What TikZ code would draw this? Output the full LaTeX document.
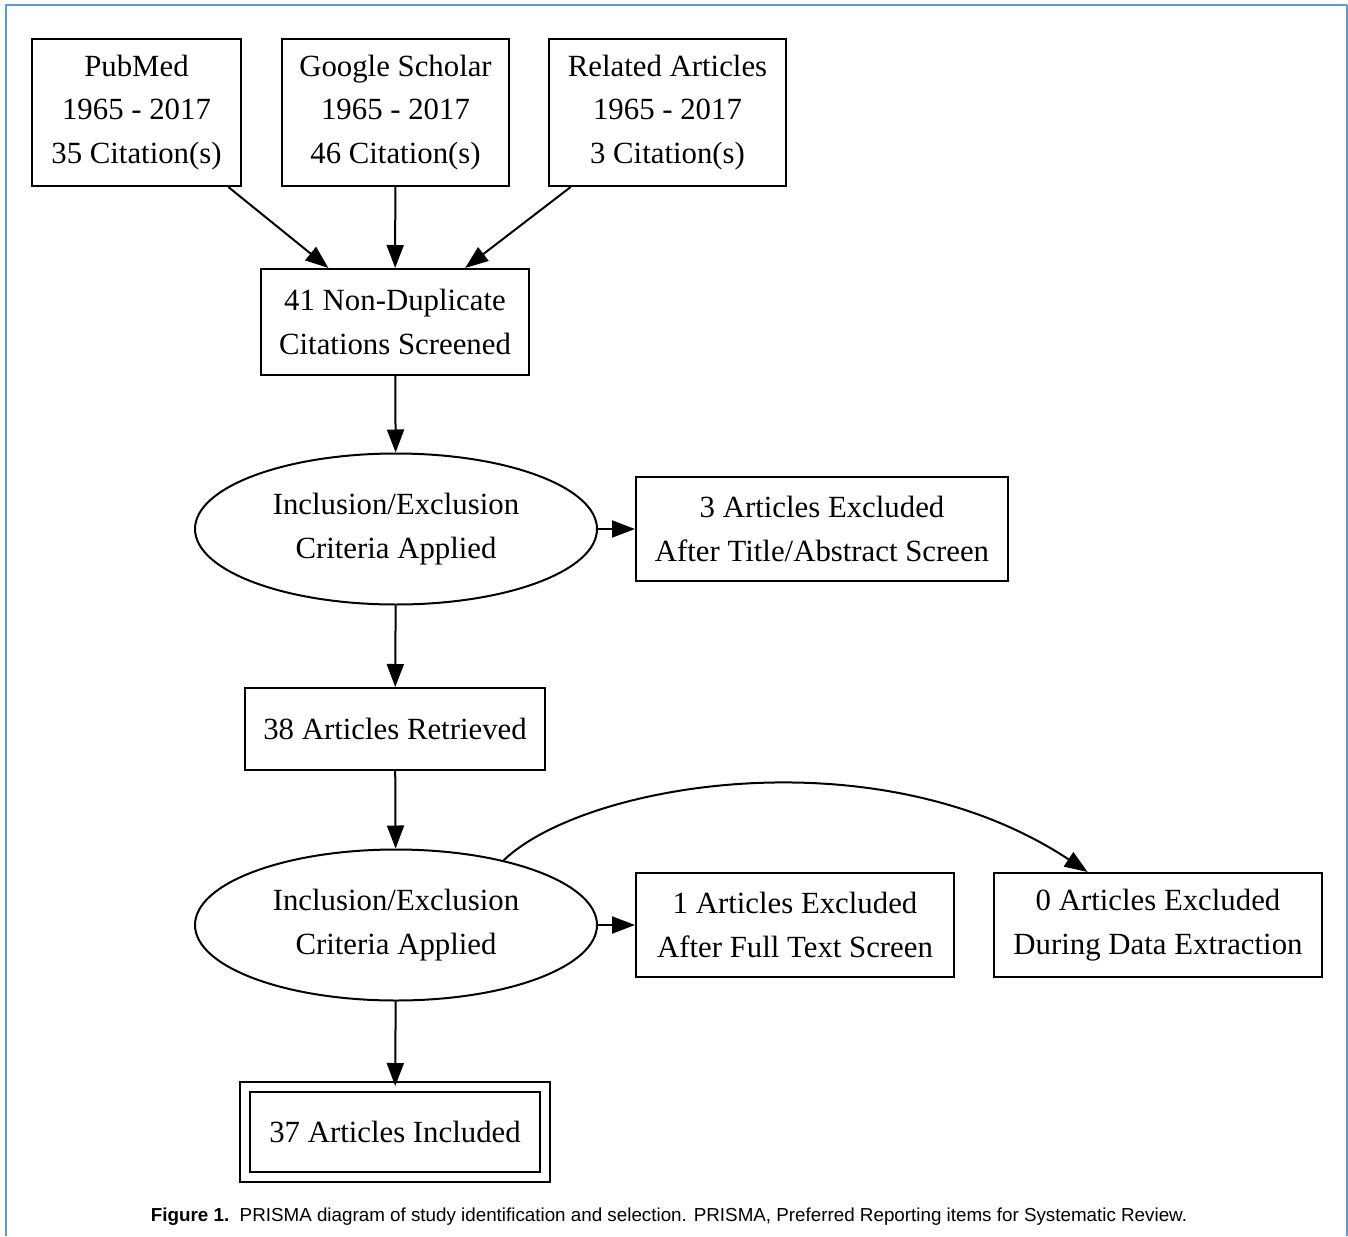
\documentclass[tikz,border=0pt]{standalone}
\usepackage{fontspec}
\setmainfont{Liberation Serif}
\newfontfamily\capfont{Liberation Sans}
\usetikzlibrary{arrows.meta,shapes.geometric}
\definecolor{frameblue}{RGB}{91,155,213}

\begin{document}
\begin{tikzpicture}[x=0.5pt,y=-0.5pt,
box/.style={draw,rectangle,line width=1pt,inner sep=0pt,align=center,minimum height=52pt,
    font=\fontsize{15.4}{21.75}\selectfont},
crit/.style={draw,ellipse,line width=1pt,inner sep=0pt,align=center,minimum width=201pt,
    minimum height=75.5pt,font=\fontsize{15.4}{21.75}\selectfont},
arr/.style={line width=1pt,-{Triangle[length=11.5pt,width=8.5pt]}}]
\useasboundingbox (0,0) rectangle (1348,1236);
\draw[frameblue,line width=1.4pt] (6,1236) -- (6,5) -- (1347,5);
\draw[frameblue,line width=0.7pt] (1347,5) -- (1347,1236);

% sources
\node (pubmed) [box,minimum width=104.5pt,minimum height=73.5pt] at (136.5,112.5)
    {PubMed\\1965 - 2017\\35 Citation(s)};
\node (scholar) [box,minimum width=113.5pt,minimum height=73.5pt] at (395.5,112.5)
    {Google Scholar\\1965 - 2017\\46 Citation(s)};
\node (related) [box,minimum width=118.5pt,minimum height=73.5pt] at (667.5,112.5)
    {Related Articles\\1965 - 2017\\3 Citation(s)};

\node (nondup) [box,minimum width=134pt,minimum height=53pt] at (395,322)
    {41 Non-Duplicate\\Citations Screened};

% screening
\node (crit1) [crit] at (396,529) {Inclusion/Exclusion\\Criteria Applied};
\node (excl1) [box,minimum width=186pt] at (822,529)
    {3 Articles Excluded\\After Title/Abstract Screen};

\node (retr) [box,minimum width=150pt,minimum height=41pt] at (395,729)
    {38 Articles Retrieved};

\node (crit2) [crit] at (396,925) {Inclusion/Exclusion\\Criteria Applied};
\node (excl2) [box,minimum width=159pt] at (795,925)
    {1 Articles Excluded\\After Full Text Screen};
\node (excl3) [box,minimum width=164pt] at (1158,925)
    {0 Articles Excluded\\During Data Extraction};

\node (incl) [box,double,double distance=4pt,minimum width=150pt,minimum height=45pt] at (395,1132)
    {37 Articles Included};

\draw[arr] (pubmed) -- (nondup);
\draw[arr] (scholar) -- (nondup);
\draw[arr] (related) -- (nondup);
\draw[arr] (nondup) -- (crit1);
\draw[arr] (crit1) -- (excl1);
\draw[arr] (crit1) -- (retr);
\draw[arr] (retr) -- (crit2);
\draw[arr] (crit2) -- (excl2);
\draw[arr] (crit2.31) .. controls +(80,-77) and +(-210,-139) .. (excl3.143);
\draw[arr] (crit2) -- (incl);

\node (caption) at (669,1217) {\capfont\fontsize{9.4}{11}\selectfont\textbf{Figure 1.}\ \ PRISMA diagram of study identification and selection. PRISMA, Preferred Reporting items for Systematic Review.};
\end{tikzpicture}
\end{document}
